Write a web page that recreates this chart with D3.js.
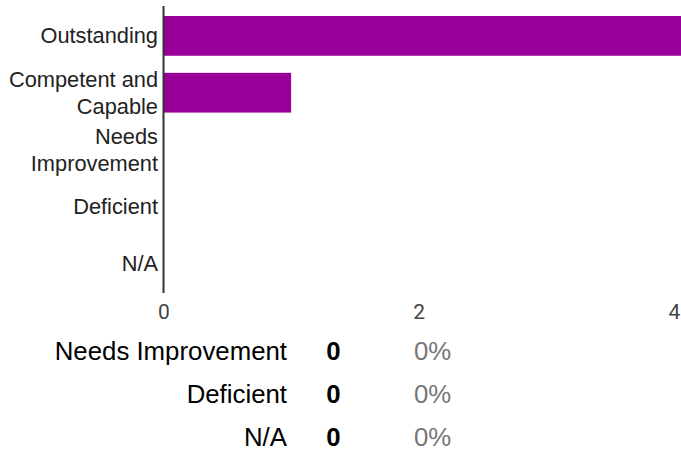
<!DOCTYPE html>
<html>
<head>
<meta charset="utf-8">
<script src="https://cdn.jsdelivr.net/npm/d3@7"></script>
<style>
  html, body { margin: 0; padding: 0; background: #fff; }
  svg { display: block; }
</style>
</head>
<body>
<svg id="chart" width="681" height="457"></svg>
<script>
// ---- data ----
const categories = ["Outstanding", "Competent and Capable", "Needs Improvement", "Deficient", "N/A"];
const counts = [5, 1, 0, 0, 0];
const xTicks = [0, 2, 4];

const tableLabels = ["Needs Improvement", "Deficient", "N/A"];
const tableCounts = [0, 0, 0];
const tablePercents = ["0%", "0%", "0%"];

// ---- layout ----
const svg = d3.select("#chart");
const axisX = 163.5;
const unit = 127.6;

const x = d3.scaleLinear()
  .domain([0, 6])
  .range([axisX, axisX + 6 * unit]);

const y = d3.scaleBand()
  .domain(categories)
  .range([6, 293])
  .paddingInner(0.3)
  .paddingOuter(0.176);

// bars
svg.append("g")
  .selectAll("rect")
  .data(categories)
  .join("rect")
  .attr("x", x(0))
  .attr("y", d => y(d))
  .attr("width", (d, i) => x(counts[i]) - x(0))
  .attr("height", y.bandwidth())
  .attr("fill", "#990099");

// y axis line
svg.append("line")
  .attr("x1", axisX).attr("x2", axisX)
  .attr("y1", 6).attr("y2", 293)
  .attr("stroke", "#333").attr("stroke-width", 2);

// y labels with wrapping
const labelFont = "21.8px 'Liberation Sans', Arial, sans-serif";
const lineH = 27;
const maxW = 152;
const lg = svg.append("g");
categories.forEach(cat => {
  const t = lg.append("text")
    .attr("text-anchor", "end")
    .style("font", labelFont)
    .attr("fill", "#222");
  const words = cat.split(" ");
  const lines = [];
  let cur = "";
  const probe = lg.append("text").style("font", labelFont);
  words.forEach(w => {
    const test = cur ? cur + " " + w : w;
    probe.text(test);
    if (probe.node().getComputedTextLength() > maxW && cur) {
      lines.push(cur);
      cur = w;
    } else {
      cur = test;
    }
  });
  lines.push(cur);
  probe.remove();
  const cy = y(cat) + y.bandwidth() / 2;
  const firstBase = cy - (lines.length - 1) * lineH / 2 + 7.6;
  lines.forEach((ln, i) => {
    t.append("tspan")
      .attr("x", 158)
      .attr("y", firstBase + i * lineH)
      .text(ln);
  });
});

// x axis tick labels
const xAxis = d3.axisBottom(x).tickValues(xTicks).tickFormat(d3.format("d")).tickSize(0).tickPadding(0);
const xg = svg.append("g")
  .attr("transform", "translate(0,303)")
  .call(xAxis);
xg.select(".domain").remove();
xg.selectAll("text")
  .attr("dy", "0")
  .attr("y", 16)
  .style("font", "21px Roboto, 'Liberation Sans', sans-serif")
  .attr("fill", "#444");

// summary table
const tableFont = "25.8px 'Liberation Sans', Arial, sans-serif";
const tg = svg.append("g");
const rowBase = d3.scalePoint().domain(tableLabels).range([360, 446]);
tableLabels.forEach((lab, i) => {
  const by = rowBase(lab);
  tg.append("text")
    .attr("x", 287).attr("y", by)
    .attr("text-anchor", "end")
    .style("font", tableFont)
    .attr("fill", "#000")
    .text(lab);
  tg.append("text")
    .attr("x", 333.5).attr("y", by)
    .attr("text-anchor", "middle")
    .style("font", "bold " + tableFont)
    .attr("fill", "#000")
    .text(tableCounts[i]);
  tg.append("text")
    .attr("x", 414).attr("y", by)
    .attr("text-anchor", "start")
    .style("font", tableFont)
    .attr("fill", "#777")
    .text(tablePercents[i]);
});
</script>
</body>
</html>
